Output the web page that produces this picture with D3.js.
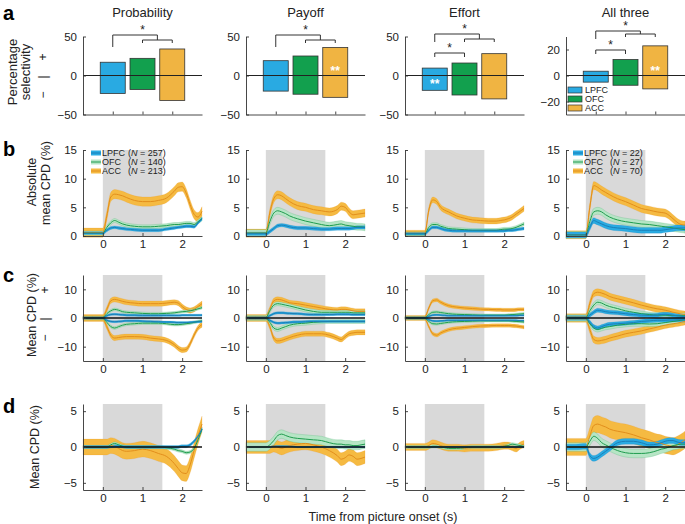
<!DOCTYPE html>
<html>
<head>
<meta charset="utf-8">
<script src="https://cdn.jsdelivr.net/npm/d3@7"></script>
<style>
  body { margin: 0; background: #fff; }
</style>
</head>
<body>
<div id="graph"></div>
<script>
// ---------------------------------------------------------------------------
// Data
// ---------------------------------------------------------------------------
const conditions = ["Probability", "Payoff", "Effort", "All three"];
const areas = ["LPFC", "OFC", "ACC"];
const legendN = [[257, 140, 213], null, null, [22, 27, 70]];

// a: percentage of selective neurons (+ and - coding), per condition [LPFC, OFC, ACC]
const selPos = [[17, 22, 34], [19, 25, 36], [9.5, 16, 28], [3.3, 12.3, 22.8]];
const selNeg = [[-23, -18, -32], [-20, -24, -28], [-19, -25, -30], [-5.1, -7.5, -10.3]];
const selTicks = [[-50, 0, 50], [-50, 0, 50], [-50, 0, 50], [-20, 0, 20]];
const selDomain = [[-50, 50], [-50, 50], [-50, 50], [-30, 30]];
const sigLpfcVsRest = [true, true, true, true];
const sigLpfcVsOfc = [false, false, true, true];
const sigWithin = [[], [2], [0], [2]]; // "**" inside these bars

// time axis (s from picture onset)
const TIME = [-0.5, -0.25, 0, 0.1, 0.2, 0.3, 0.4, 0.5, 0.6, 0.8, 1.0, 1.2, 1.4, 1.6, 1.8, 1.9, 2.0, 2.1, 2.2, 2.3, 2.4, 2.5];

// b: absolute mean CPD (%), one array per condition
const bACC = [
  [0.6, 0.6, 0.6, 3.5, 6.8, 7.3, 7.2, 7, 6.7, 6.2, 6, 6, 6.2, 6.6, 7.8, 8.5, 8.6, 7.5, 5.5, 3.8, 3.3, 4.3],
  [0.5, 0.5, 0.5, 4, 6.5, 7.2, 7, 6.5, 6, 5.3, 5, 4.6, 4.4, 4.2, 4.6, 5.2, 5, 4.2, 3.7, 3.8, 3.9, 4.0],
  [0.5, 0.5, 0.5, 4.5, 6.3, 6, 5, 4.5, 4.2, 3.5, 3.1, 2.8, 2.7, 2.6, 2.6, 2.7, 2.8, 3, 3.3, 3.8, 4.3, 4.8],
  [0.2, 0.2, 0.2, 5, 8.8, 8.5, 8, 7.6, 7.2, 6.5, 6, 5.4, 4.8, 4.5, 4.2, 4.1, 4, 3.6, 3, 2.4, 2, 1.9]
];
const bOFC = [
  [0.5, 0.5, 0.5, 1.5, 2.3, 2.7, 2.4, 2.1, 1.9, 1.7, 1.6, 1.6, 1.7, 1.8, 2, 2, 2.1, 2.2, 2.2, 2.0, 2.5, 3.0],
  [0.5, 0.5, 0.5, 2.5, 4, 4.4, 4.2, 3.9, 3.5, 3, 2.6, 2.3, 2, 1.8, 2, 2.1, 1.9, 1.8, 1.7, 1.6, 1.6, 1.5],
  [0.4, 0.4, 0.4, 1.5, 2, 2, 1.7, 1.5, 1.3, 1.2, 1.1, 1.0, 1.0, 1.0, 1.0, 1.1, 1.2, 1.2, 1.3, 1.5, 1.8, 2.1],
  [0.2, 0.2, 0.2, 2.5, 4.2, 4.4, 4.2, 3.7, 3.3, 2.8, 2.5, 2.3, 2.1, 2.0, 1.8, 1.7, 1.6, 1.5, 1.4, 1.3, 1.2, 1.1]
];
const bLPFC = [
  [0.5, 0.5, 0.5, 1, 1.4, 1.5, 1.4, 1.3, 1.2, 1.1, 1.0, 1.0, 1.0, 1.2, 1.4, 1.5, 1.6, 1.7, 1.7, 1.6, 2.3, 3],
  [0.4, 0.4, 0.4, 0.8, 1.3, 1.8, 1.9, 1.8, 1.6, 1.4, 1.4, 1.3, 1.2, 1.2, 1.3, 1.3, 1.3, 1.3, 1.4, 1.5, 1.5, 1.5],
  [0.4, 0.4, 0.4, 1.0, 1.5, 1.5, 1.3, 1.1, 1.0, 0.9, 0.9, 0.9, 0.9, 0.9, 0.9, 0.9, 0.9, 1.0, 1.0, 1.1, 1.2, 1.3],
  [0.2, 0.2, 0.2, 1.5, 2.7, 2.4, 2.1, 1.8, 1.6, 1.4, 1.3, 1.1, 1.0, 1.0, 1.0, 1.0, 1.1, 1.2, 1.3, 1.4, 1.4, 1.4]
];
const bSEM = [[0.25, 0.35, 0.8], [0.3, 0.6, 0.7], [0.25, 0.3, 0.5], [0.5, 0.6, 0.7]];

// c: mean CPD (%) split into positive and negative coding neurons
const cACCpos = [
  [0.3, 0.3, 0.3, 3, 6, 6.5, 6.2, 5.8, 5.5, 5.2, 5, 5, 5, 5.2, 5.5, 5.2, 4, 3, 2.6, 3, 4, 5],
  [0.3, 0.3, 0.3, 3, 6, 6.5, 6.3, 5.8, 5.3, 5, 4.5, 4, 3.5, 3, 2.8, 3, 3, 2.8, 2.5, 2.3, 2.3, 2.3],
  [0.3, 0.3, 0.3, 3.5, 6, 6.3, 5.5, 4.8, 4.3, 3.8, 3.5, 3.3, 3.1, 3, 2.9, 2.9, 2.8, 2.8, 2.8, 2.9, 3, 3],
  [0.3, 0.3, 0.3, 5, 8.5, 9, 8.7, 8.2, 7.5, 6.7, 6, 5.3, 4.5, 3.8, 3.2, 3, 2.7, 2.4, 2, 1.7, 1.4, 1.2]
];
const cACCneg = [
  [-0.3, -0.3, -0.3, -3, -6, -7, -6.8, -6.6, -6.5, -6.5, -6.6, -7, -7.3, -7.8, -9.3, -10.5, -11.2, -11, -9, -6, -3.5, -2.3],
  [-0.3, -0.3, -0.3, -3, -7, -8, -7.8, -7.3, -6.8, -6, -5.5, -5.5, -5.5, -6, -7, -7.5, -6.5, -5.5, -5.2, -5, -5, -5],
  [-0.3, -0.3, -0.3, -3, -5.5, -6, -5.2, -4.6, -4.1, -3.6, -3.3, -3, -2.8, -2.7, -2.6, -2.6, -2.6, -2.6, -2.7, -2.8, -3, -3.2],
  [-0.3, -0.3, -0.3, -4, -7.5, -8, -7.8, -7.5, -7, -6.3, -5.5, -5, -4.5, -3.8, -3.2, -2.8, -2.5, -2.2, -2, -1.8, -1.5, -1.2]
];
const cOFCpos = [
  [0.2, 0.2, 0.2, 1.5, 2.5, 3, 2.7, 2.2, 2, 1.8, 1.6, 1.5, 1.5, 1.6, 1.8, 2, 2.2, 2.3, 2.5, 2.8, 3.2, 3.6],
  [0.2, 0.2, 0.2, 2.5, 4.5, 5, 4.8, 4.5, 4.2, 3.5, 2.8, 2.3, 2, 2, 2, 2, 2, 2, 1.8, 1.8, 1.8, 1.8],
  [0.2, 0.2, 0.2, 1.2, 2, 2.1, 1.9, 1.7, 1.5, 1.3, 1.2, 1.1, 1.0, 1.0, 1.0, 1.0, 1.0, 1.1, 1.2, 1.3, 1.4, 1.5],
  [0.2, 0.2, 0.2, 2.5, 4.5, 5.5, 5.2, 4.5, 4, 3.3, 2.5, 2, 1.5, 1.2, 1, 1, 1, 0.9, 0.9, 0.8, 0.8, 0.8]
];
const cOFCneg = [
  [-0.2, -0.2, -0.2, -1.5, -3, -3.5, -3, -2.5, -2.2, -2, -1.8, -1.8, -1.8, -2, -2.3, -2.3, -2.2, -2, -1.8, -1.5, -1.2, -1],
  [-0.2, -0.2, -0.2, -1.5, -3.5, -4, -3.5, -3, -2.5, -2, -1.8, -1.5, -1.3, -1.2, -1.2, -1.2, -1.2, -1.2, -1.2, -1.2, -1.2, -1.2],
  [-0.2, -0.2, -0.2, -1.2, -2, -2.1, -1.9, -1.7, -1.5, -1.3, -1.2, -1.1, -1.0, -1.0, -1.0, -1.0, -1.0, -1.0, -1.1, -1.2, -1.3, -1.4],
  [-0.2, -0.2, -0.2, -2, -3.5, -4, -3.6, -3.2, -3, -2.5, -2.2, -2, -2, -2.1, -2, -1.8, -1.6, -1.4, -1.2, -1, -0.8, -0.6]
];
const cLPFCpos = [
  [0.1, 0.1, 0.1, 0.8, 1.2, 1.3, 1.2, 1.1, 1, 1, 0.9, 0.9, 0.9, 0.9, 0.9, 0.9, 1, 1, 1, 1, 1, 1],
  [0.1, 0.1, 0.1, 0.8, 1.5, 1.8, 1.8, 1.7, 1.6, 1.5, 1.3, 1.2, 1.2, 1.2, 1.3, 1.3, 1.3, 1.3, 1.2, 1.2, 1.2, 1.2],
  [0.1, 0.1, 0.1, 0.6, 1, 1.1, 1, 0.9, 0.8, 0.8, 0.8, 0.8, 0.8, 0.8, 0.8, 0.8, 0.8, 0.8, 0.8, 0.8, 0.9, 0.9],
  [0.1, 0.1, 0.1, 1, 2, 2.7, 2.5, 2.2, 2, 1.8, 1.5, 1.2, 1, 0.9, 1, 1.2, 1.3, 1.2, 1, 0.8, 0.6, 0.5]
];
const cLPFCneg = [
  [-0.1, -0.1, -0.1, -0.8, -1.2, -1.3, -1.2, -1.1, -1, -1, -1.1, -1.2, -1.3, -1.4, -1.5, -1.6, -1.6, -1.6, -1.5, -1.4, -1.3, -1.2],
  [-0.1, -0.1, -0.1, -0.8, -1.5, -1.8, -1.7, -1.6, -1.5, -1.4, -1.3, -1.2, -1.2, -1.2, -1.2, -1.2, -1.2, -1.2, -1.2, -1.2, -1.2, -1.2],
  [-0.1, -0.1, -0.1, -0.6, -1, -1.1, -1, -0.9, -0.8, -0.8, -0.8, -0.8, -0.8, -0.8, -0.8, -0.8, -0.8, -0.8, -0.8, -0.8, -0.9, -0.9],
  [-0.1, -0.1, -0.1, -1.5, -3, -3.5, -3, -2.5, -2.2, -2, -1.8, -1.6, -1.2, -1, -0.8, -0.8, -0.8, -0.7, -0.7, -0.6, -0.6, -0.6]
];
const cSEM = [[0.35, 0.45, 0.9], [0.4, 0.7, 0.9], [0.3, 0.4, 0.6], [0.7, 0.9, 1.2]];

// d: mean CPD (%)
const dACC = [
  [0, 0, 0, 0, 0.2, 0.1, -0.2, -0.5, -0.6, -0.5, -0.3, -0.5, -0.9, -1.3, -2.3, -3, -3.6, -3.7, -2.5, -0.5, 1.5, 3.2],
  [0, 0, 0, 0, 0.2, 0, -0.2, 0, 0.2, 0.4, 0.5, 0.3, 0, -0.5, -1.2, -1.7, -1.5, -1.1, -1.3, -1.7, -1.6, -1.4],
  [0, 0, 0, 0.2, 0.5, 0.4, 0.2, 0, -0.1, -0.1, -0.2, -0.1, -0.1, -0.1, 0, 0.1, 0.2, 0.2, 0, -0.2, 0.2, 0.4],
  [0, 0, 0, 1.5, 3, 3.2, 3, 2.8, 2.5, 2.2, 2, 1.7, 1.3, 1, 0.6, 0.5, 0.3, 0.2, 0.1, 0.3, 0.6, 1]
];
const dOFC = [
  [0, 0, 0, 0, 0.3, 0.5, 0.3, 0.1, 0, 0, 0, 0, 0, -0.1, -0.3, -0.5, -0.6, -0.8, -0.7, -0.2, 1, 2.5],
  [0, 0, 0, 0.3, 0.9, 1.6, 1.8, 1.6, 1.4, 1.2, 1.1, 1.0, 0.9, 0.6, 0.4, 0.4, 0.3, 0.3, 0.2, 0.2, 0.3, 0.4],
  [0, 0, 0, 0, 0.1, 0.1, 0, -0.1, -0.2, -0.2, -0.1, 0, 0, 0, 0, 0, 0.1, 0.2, 0.4, 0.3, 0.2, 0.1],
  [0, 0, 0, 0.8, 1.5, 1.2, 0.6, 0.3, 0, -0.5, -0.8, -0.9, -0.9, -0.8, -0.5, -0.3, -0.2, 0, 0.2, 0.3, 0.4, 0.4]
];
const dLPFC = [
  [0, 0, 0, 0, 0.05, 0.1, 0.1, 0.05, 0, 0, 0, 0, 0, 0, 0, 0, 0.1, 0.1, 0.3, 0.8, 1.5, 2.5],
  [0, 0, 0, 0, 0.1, 0.1, 0.1, 0.1, 0.1, 0, 0, 0, 0, 0, 0, 0, 0, 0, 0, 0, 0, 0],
  [0, 0, 0, 0, 0, 0, 0, 0, 0, 0, 0, 0, 0, 0, 0, 0, 0, 0, 0, 0, 0, 0],
  [0, 0, 0.1, -1.2, -1.6, -1.4, -1, -0.6, -0.2, 0.6, 0.8, 0.8, 0.6, 0.3, 0.4, 0.6, 0.8, 0.9, 0.9, 0.7, 0.6, 0.6]
];
const dSEM = [[0.2, 0.2, 1.1], [0.1, 0.6, 0.9], [0.1, 0.2, 0.5], [0.4, 0.6, 1.2]];

// ---------------------------------------------------------------------------
// Layout & style
// ---------------------------------------------------------------------------
const W = 685, H = 524;
const FONT = '"Liberation Sans", Arial, Helvetica, sans-serif';
const colX = [83, 246, 405, 566];
const plotW = 119;
const axisColor = "#333";

const barFill = { LPFC: "#29aae2", OFC: "#12a04e", ACC: "#f0b442" };
const bandFill = { LPFC: "#2aabe2", OFC: "#b6e5c5", ACC: "#f5ba42" };
const lineColor = { LPFC: "#1b7fb8", OFC: "#1f9c4e", ACC: "#e28e1c" };

const svg = d3
  .select("#graph")
  .append("svg")
  .attr("width", W)
  .attr("height", H)
  .style("font-family", FONT);

function styleAxis(g, size) {
  g.attr("font-family", FONT).attr("font-size", size || 11.5);
  g.select(".domain").attr("stroke", axisColor).attr("stroke-width", 0.9);
  g.selectAll(".tick line").attr("stroke", axisColor).attr("stroke-width", 0.9);
  g.selectAll(".tick text").attr("fill", "#222");
}

function rotatedText(x, y, txt, size) {
  return svg
    .append("text")
    .attr("transform", `translate(${x},${y}) rotate(-90)`)
    .attr("text-anchor", "middle")
    .attr("font-size", size || 12.5)
    .attr("fill", "#222")
    .text(txt);
}

function panelLetter(letter, y) {
  svg.append("text").attr("x", 3).attr("y", y)
    .attr("font-size", 20).attr("font-weight", "bold").text(letter);
}

// ---------------------------------------------------------------------------
// Panel a: bar charts
// ---------------------------------------------------------------------------
const bracketLevels = [[35, 40, null], [35, 40, null], [34, 39, 53], [31, 34, 50]];

conditions.forEach((cond, i) => {
  const g = svg.append("g").attr("transform", `translate(${colX[i]},0)`);
  const x = d3.scaleLinear().domain([0, 4]).range([0, plotW]);
  const y = d3.scaleLinear().domain(selDomain[i]).range([114.5, 36.5]);
  const bw = x(0.84) - x(0);

  areas.forEach((a, j) => {
    g.append("rect")
      .attr("x", x(j + 1) - bw / 2)
      .attr("width", bw)
      .attr("y", y(selPos[i][j]))
      .attr("height", y(selNeg[i][j]) - y(selPos[i][j]))
      .attr("fill", barFill[a])
      .attr("stroke", "#333")
      .attr("stroke-width", 0.8);
  });

  g.append("line")
    .attr("x1", 0).attr("x2", plotW)
    .attr("y1", y(0)).attr("y2", y(0))
    .attr("stroke", "#222").attr("stroke-width", 1);

  // "**" inside bars
  sigWithin[i].forEach(j => {
    const v = selPos[i][j] > Math.abs(selNeg[i][j]) ? 1 : -1;
    g.append("text")
      .attr("x", x(j + 1))
      .attr("y", v > 0 ? y(0) - 1 : y(0) + 12)
      .attr("text-anchor", "middle")
      .attr("font-size", 12)
      .attr("font-weight", "bold")
      .attr("fill", "#fff")
      .text("**");
  });

  const yAxis = g.append("g").call(
    d3.axisLeft(y).tickValues(selTicks[i]).tickSizeInner(-3).tickSizeOuter(0).tickPadding(6)
  );
  styleAxis(yAxis);
  const xAxis = g.append("g").attr("transform", `translate(0,${y.range()[0]})`).call(
    d3.axisBottom(x).tickValues([1, 2, 3]).tickFormat("").tickSizeInner(-3).tickSizeOuter(0)
  );
  styleAxis(xAxis);

  g.append("text")
    .attr("x", x(2)).attr("y", 17)
    .attr("text-anchor", "middle")
    .attr("font-size", 13)
    .attr("fill", "#222")
    .text(cond);

  // significance brackets
  const [yOut, yIn, yLow] = bracketLevels[i];
  const c1 = x(1), c2 = x(2), c3 = x(3), m23 = (c2 + c3) / 2;
  const br = (d) => g.append("path").attr("d", d).attr("fill", "none")
    .attr("stroke", "#333").attr("stroke-width", 1);
  const star = (sx, sy) => g.append("text").attr("x", sx).attr("y", sy)
    .attr("text-anchor", "middle").attr("font-size", 12).attr("fill", "#222").text("*");
  if (sigLpfcVsRest[i]) {
    br(`M${c2},${yIn + 3}V${yIn}H${c3}V${yIn + 3}`);
    br(`M${c1},${yOut + (yLow ? 8 : 12)}V${yOut}H${m23}V${yIn}`);
    star(c2, yOut - 1);
  }
  if (sigLpfcVsOfc[i]) {
    br(`M${c1},${yLow + 4}V${yLow}H${c2}V${yLow + 4}`);
    star((c1 + c2) / 2, yLow - 1);
  }

  // legend in last column
  if (i === 3) {
    areas.forEach((a, j) => {
      const ly = 90 + j * 9;
      g.append("rect").attr("x", 2).attr("y", ly - 3).attr("width", 14).attr("height", 6)
        .attr("fill", barFill[a]).attr("stroke", "#333").attr("stroke-width", 0.7);
      g.append("text").attr("x", 19).attr("y", ly + 3.2)
        .attr("font-size", 9).attr("fill", "#222").text(a);
    });
  }
});

panelLetter("a", 20);
rotatedText(17, 72, "Percentage", 13);
rotatedText(30, 72, "selectivity", 13);
rotatedText(47, 57, "+", 12);
rotatedText(47, 77, "|", 12);
rotatedText(47, 95, "\u2212", 12);

// ---------------------------------------------------------------------------
// Panels b-d: time courses
// ---------------------------------------------------------------------------
const xt = d3.scaleLinear().domain([-0.5, 2.5]).range([0, plotW]);
const lineGen = (y) => d3.line().x((d, k) => xt(TIME[k])).y(d => y(d)).curve(d3.curveMonotoneX);
const bandGen = (y, s) => d3.area().x((d, k) => xt(TIME[k]))
  .y0(d => y(d - s)).y1(d => y(d + s)).curve(d3.curveMonotoneX);

function timePanel(col, y, ticks, layers, zeroLine) {
  const g = svg.append("g").attr("transform", `translate(${colX[col]},0)`);
  const [yb, yt] = y.range();
  g.append("rect")
    .attr("x", xt(0)).attr("width", xt(1.5) - xt(0))
    .attr("y", yt).attr("height", yb - yt)
    .attr("fill", "#d9d9d9");

  layers.forEach(L => {
    g.append("path").datum(L.values).attr("d", bandGen(y, L.sem))
      .attr("fill", bandFill[L.area]).attr("stroke", lineColor[L.area])
      .attr("stroke-width", 0.3).attr("stroke-opacity", 0.6);
  });
  layers.forEach(L => {
    g.append("path").datum(L.values).attr("d", lineGen(y))
      .attr("fill", "none").attr("stroke", lineColor[L.area]).attr("stroke-width", 1);
  });

  if (zeroLine) {
    g.append("line").attr("x1", 0).attr("x2", plotW)
      .attr("y1", y(0)).attr("y2", y(0))
      .attr("stroke", "#111").attr("stroke-width", 1.6);
  }

  const yAxis = g.append("g").call(
    d3.axisLeft(y).tickValues(ticks).tickSizeInner(-3).tickSizeOuter(0).tickPadding(6)
  );
  styleAxis(yAxis);
  const xAxis = g.append("g").attr("transform", `translate(0,${yb})`).call(
    d3.axisBottom(xt).tickValues([0, 1, 2]).tickFormat(d3.format("d"))
      .tickSizeInner(-3).tickSizeOuter(0).tickPadding(4)
  );
  styleAxis(xAxis);
  return g;
}

const order = [2, 1, 0]; // ACC drawn first, LPFC on top
const yB = d3.scaleLinear().domain([0, 15]).range([236, 150]);
const yC = d3.scaleLinear().domain([-15, 15]).range([361, 275]);
const yD = d3.scaleLinear().domain([-6, 6]).range([490, 404]);
const bSeries = [bLPFC, bOFC, bACC];
const cPos = [cLPFCpos, cOFCpos, cACCpos];
const cNeg = [cLPFCneg, cOFCneg, cACCneg];
const dSeries = [dLPFC, dOFC, dACC];

conditions.forEach((cond, i) => {
  // b
  const gb = timePanel(i, yB, [0, 5, 10, 15],
    order.map(j => ({ area: areas[j], values: bSeries[j][i], sem: bSEM[i][j] })), false);

  if (legendN[i]) {
    areas.forEach((a, j) => {
      const ly = 153 + j * 9;
      const lx = i === 0 ? 8 : 7;
      gb.append("rect").attr("x", lx).attr("y", ly - 2.5).attr("width", 10).attr("height", 5)
        .attr("fill", bandFill[a]);
      gb.append("line").attr("x1", lx).attr("x2", lx + 10).attr("y1", ly).attr("y2", ly)
        .attr("stroke", lineColor[a]).attr("stroke-width", 1);
      gb.append("text").attr("x", lx + 11).attr("y", ly + 3.2)
        .attr("font-size", 9).attr("fill", "#222").text(a);
      const t = gb.append("text").attr("x", lx + 37).attr("y", ly + 3.2)
        .attr("font-size", 9).attr("fill", "#222");
      t.append("tspan").text("(");
      t.append("tspan").attr("font-style", "italic").text("N");
      t.append("tspan").text(` = ${legendN[i][j]})`);
    });
  }

  // c
  const cLayers = [];
  order.forEach(j => {
    cLayers.push({ area: areas[j], values: cPos[j][i], sem: cSEM[i][j] });
    cLayers.push({ area: areas[j], values: cNeg[j][i], sem: cSEM[i][j] });
  });
  timePanel(i, yC, [-10, 0, 10], cLayers, true);

  // d
  timePanel(i, yD, [-5, 0, 5],
    order.map(j => ({ area: areas[j], values: dSeries[j][i], sem: dSEM[i][j] })), true);
});

panelLetter("b", 156);
rotatedText(36, 182, "Absolute");
rotatedText(50, 183, "mean CPD (%)");

panelLetter("c", 282);
rotatedText(36, 315, "Mean CPD (%)");
rotatedText(49, 290, "+", 12);
rotatedText(49, 319, "|", 12);
rotatedText(49, 338, "\u2212", 12);

panelLetter("d", 413);
rotatedText(39, 447, "Mean CPD (%)");

svg.append("text")
  .attr("x", 383).attr("y", 521)
  .attr("text-anchor", "middle")
  .attr("font-size", 12.5)
  .attr("fill", "#222")
  .text("Time from picture onset (s)");
</script>
</body>
</html>
